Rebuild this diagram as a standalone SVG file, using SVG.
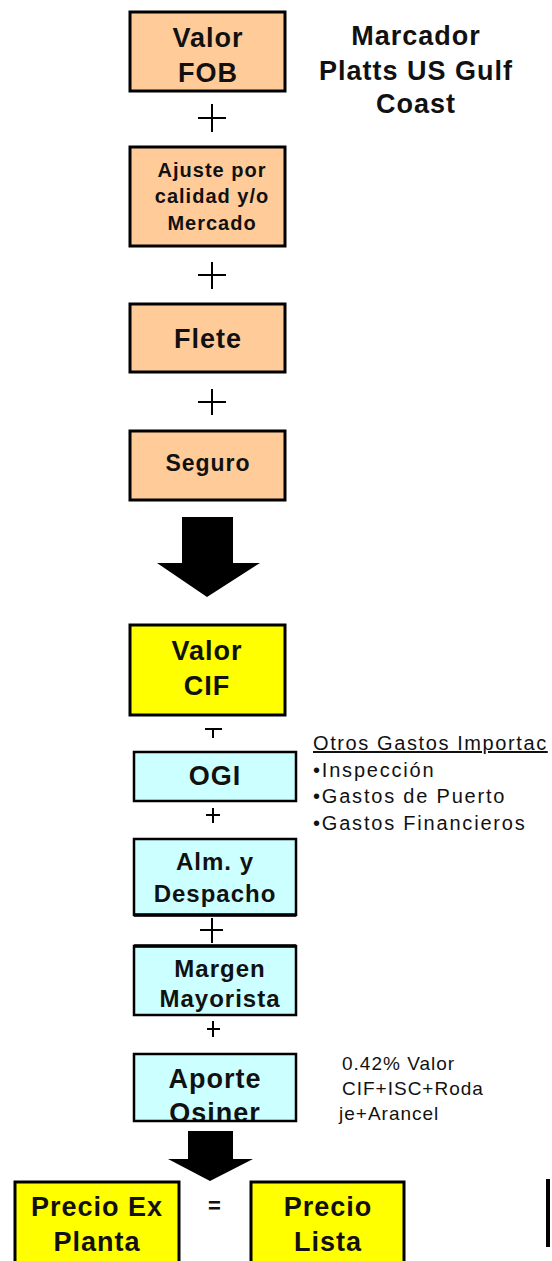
<svg xmlns="http://www.w3.org/2000/svg" width="552" height="1261" viewBox="0 0 552 1261">
<style>
.box{stroke:#000;stroke-width:3}
.org{fill:#FFCC99}
.yel{fill:#FFFF00}
.cyn{fill:#CCFFFF;stroke-width:2.5}
.t{font-family:"Liberation Sans",Arial,sans-serif;font-weight:bold;fill:#111;text-anchor:middle;letter-spacing:1px}
.r{font-family:"Liberation Sans",Arial,sans-serif;fill:#111}
.plus{stroke:#000;stroke-width:2;fill:none}
</style>
<rect width="552" height="1261" fill="#fff"/>
<g id="valor-fob">
<rect class="box org" x="130" y="12" width="155" height="79"/>
<text class="t" x="208" y="47" font-size="27">Valor</text>
<text class="t" x="208" y="82" font-size="27">FOB</text>
</g>
<g id="marcador">
<text class="t" x="416" y="45" font-size="27">Marcador</text>
<text class="t" x="416" y="80" font-size="27">Platts US Gulf</text>
<text class="t" x="416" y="113" font-size="27">Coast</text>
</g>
<g id="ajuste">
<rect class="box org" x="130" y="147" width="155" height="99"/>
<text class="t" x="212" y="177" font-size="20">Ajuste por</text>
<text class="t" x="212" y="203" font-size="20">calidad y/o</text>
<text class="t" x="212" y="230" font-size="20">Mercado</text>
</g>
<g id="flete">
<rect class="box org" x="130" y="304" width="155" height="68"/>
<text class="t" x="208" y="348" font-size="27">Flete</text>
</g>
<g id="seguro">
<rect class="box org" x="130" y="431" width="155" height="69"/>
<text class="t" x="208" y="471" font-size="23">Seguro</text>
</g>
<g id="valor-cif">
<rect class="box yel" x="130" y="625" width="155" height="90"/>
<text class="t" x="207" y="660" font-size="27">Valor</text>
<text class="t" x="207" y="695" font-size="27">CIF</text>
</g>
<g id="ogi">
<rect class="box cyn" x="134" y="752" width="162" height="49"/>
<text class="t" x="215" y="785" font-size="27">OGI</text>
</g>
<g id="otros-gastos">
<text class="r" x="313" y="750" font-size="20" letter-spacing="1.6" text-decoration="underline">Otros Gastos Importac</text>
<text class="r" x="313" y="777" font-size="20" letter-spacing="1.8">•Inspección</text>
<text class="r" x="313" y="803" font-size="20" letter-spacing="1.8">•Gastos de Puerto</text>
<text class="r" x="313" y="830" font-size="20" letter-spacing="1.8">•Gastos Financieros</text>
</g>
<g id="alm-despacho">
<rect class="box cyn" x="134" y="839" width="162" height="76"/>
<line x1="134" y1="915" x2="296" y2="915" stroke="#000" stroke-width="3.5"/>
<text class="t" x="215" y="870" font-size="24">Alm. y</text>
<text class="t" x="215" y="902" font-size="24">Despacho</text>
</g>
<g id="margen-mayorista">
<rect class="box cyn" x="134" y="946" width="162" height="69"/>
<line x1="134" y1="946" x2="296" y2="946" stroke="#000" stroke-width="3.5"/>
<text class="t" x="220" y="977" font-size="24">Margen</text>
<text class="t" x="220" y="1007" font-size="24">Mayorista</text>
</g>
<g id="aporte-osiner">
<rect x="134" y="1054" width="162" height="67" fill="#CCFFFF"/>
<text class="t" x="215" y="1088" font-size="27">Aporte</text>
<text class="t" x="215" y="1122" font-size="27">Osiner</text>
<rect x="130" y="1121" width="170" height="8" fill="#fff"/>
<rect x="134" y="1054" width="162" height="67" fill="none" stroke="#000" stroke-width="2.5"/>
</g>
<g id="osiner-note">
<text class="r" x="342" y="1070" font-size="19" letter-spacing="1">0.42% Valor</text>
<text class="r" x="342" y="1095" font-size="19" letter-spacing="1">CIF+ISC+Roda</text>
<text class="r" x="339" y="1120" font-size="19" letter-spacing="1">je+Arancel</text>
</g>
<g id="precio-ex-planta">
<rect class="box yel" x="15" y="1182" width="164" height="90"/>
<text class="t" x="97" y="1216" font-size="27">Precio Ex</text>
<text class="t" x="97" y="1251" font-size="27">Planta</text>
</g>
<g id="precio-lista">
<rect class="box yel" x="251" y="1182" width="153" height="90"/>
<text class="t" x="328" y="1216" font-size="27">Precio</text>
<text class="t" x="328" y="1251" font-size="27">Lista</text>
</g>
<g id="partial-box">
<rect x="546" y="1179" width="4" height="68" fill="#000"/>
</g>
<g id="connectors">
<path class="plus" d="M198 118H226M212 104V132"/>
<path class="plus" d="M198 275H226M212 262V289"/>
<path class="plus" d="M198 402H226M212 389V415"/>
<path d="M182 517H233V563H260L207 597L157 563H182Z" fill="#000"/>
<path class="plus" d="M205 729H222M213 729V738"/>
<path class="plus" d="M206 815H220M213 808V823"/>
<path class="plus" d="M200 930H223M212 918V943"/>
<path class="plus" d="M207 1029H220M213 1021V1037"/>
<path d="M188 1131H233V1159H253L210 1181L168 1159H188Z" fill="#000"/>
<text class="t" x="215" y="1213" font-size="22" letter-spacing="0">=</text>
</g>
</svg>
